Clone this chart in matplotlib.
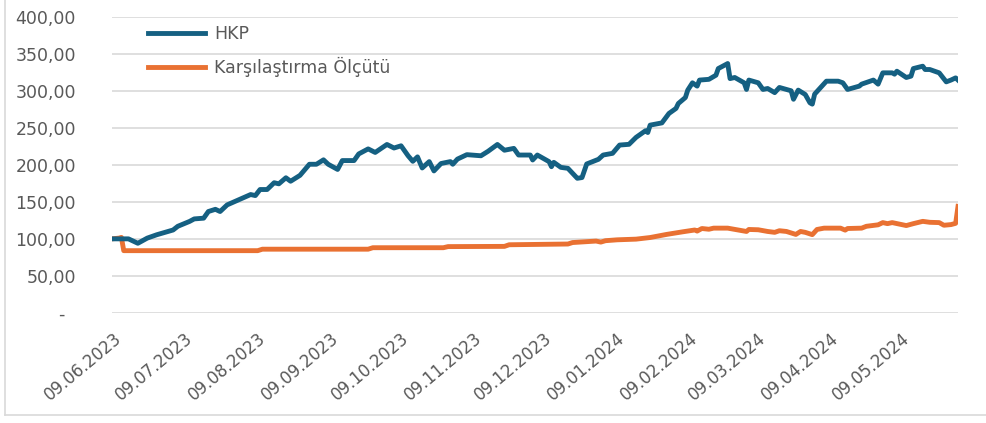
import datetime as dt
import matplotlib
matplotlib.use("Agg")
import matplotlib.pyplot as plt
import matplotlib.dates as mdates
import matplotlib.transforms as mtransforms
from matplotlib.ticker import FuncFormatter
from matplotlib.lines import Line2D

start = dt.date(2023, 6, 9)

# HKP: (days since 09.06.2023, value)
hkp_days = [0, 5, 7, 11, 15, 19, 26, 28, 33, 35, 39, 41, 44, 46, 49, 54, 59, 61, 63, 66,
            69, 71, 74, 76, 80, 84, 87, 90, 92, 96, 98, 103, 105, 109, 112, 117, 120, 123,
            126, 128, 130, 132, 135, 137, 140, 144, 145, 147, 151, 157, 160, 164, 167, 171,
            173, 178, 179, 181, 186, 187, 188, 191, 194, 198, 200, 202, 207, 209, 213, 216,
            220, 223, 227, 228, 229, 234, 237, 240, 241, 244, 245, 247, 249, 250, 254, 257,
            258, 262, 263, 265, 269, 270, 271, 275, 277, 279, 282, 284, 287, 289, 290, 292,
            295, 297, 298, 299, 304, 309, 311, 313, 316, 318, 319, 324, 326, 328, 332, 333,
            334, 338, 340, 341, 345, 346, 348, 352, 355, 357, 359, 360]
hkp_vals = [100, 100, 100, 94, 101, 105.5, 112, 117, 123.6, 127, 128, 137, 140, 137, 146,
            153, 160, 158.6, 166.8, 166.8, 176, 174.5, 182.7, 178, 186, 201, 201, 207, 201,
            194, 206, 206, 215, 221.8, 217, 227.8, 223, 226, 212.5, 205, 211, 196, 204.6, 192,
            202, 204.6, 201, 208, 214, 212.5, 218.5, 227.8, 220, 222.5, 213.5, 213.5, 206.8,
            213.5, 204.5, 197.7, 203.6, 196.8, 195.5, 182, 183, 201.4, 207.7, 213.5, 215.8,
            227, 228, 237.4, 246.4, 244, 254, 257, 269.8, 276.6, 283.3, 291.4, 301.4, 311.3,
            306.8, 315, 316, 321.6, 330.6, 337.4, 317, 318.5, 311.3, 302.3, 315, 311.3, 302.3,
            303.6, 298, 305, 302.3, 300.5, 289, 301.4, 295.5, 284.2, 282.4, 296, 313.5, 313.5,
            311.3, 302.3, 305, 306.8, 309.5, 315, 309.5, 324.8, 324.8, 323, 327, 318.5, 320.3,
            330.6, 333.8, 329.3, 329.3, 324.8, 312.6, 315, 318, 315]

# Karşılaştırma Ölçütü
bench_days = [0, 3, 4, 5, 62, 64, 109, 111, 141, 143, 167, 169, 194, 196, 206, 208, 210,
              215, 223, 229, 236, 243, 248, 249, 251, 254, 256, 262, 270, 271, 275, 279,
              282, 284, 287, 291, 293, 295, 298, 300, 303, 310, 312, 313, 319, 321, 326,
              328, 330, 332, 338, 341, 345, 348, 352, 354, 357, 359, 360]
bench_vals = [100, 101, 102, 84, 84, 86, 86, 88, 88, 89.5, 89.8, 92, 93, 95, 97, 95.6, 97.5,
              98.7, 99.6, 101.8, 106, 109.6, 112, 110.5, 114, 113, 114.5, 114.5, 110, 112.7,
              112.3, 110, 108.8, 111, 110, 106, 110, 108.8, 105.7, 112.7, 114.5, 114.5, 111.8,
              114, 114.5, 117, 119, 122, 120.6, 122, 118, 120.6, 123.7, 122.4, 122, 118.4,
              119.3, 121, 144]

month_ticks = [dt.date(2023, m, 9) for m in range(6, 13)] + [dt.date(2024, m, 9) for m in range(1, 6)]

hkp_dates = [start + dt.timedelta(days=d) for d in hkp_days]
bench_dates = [start + dt.timedelta(days=d) for d in bench_days]

blue = "#156082"
orange = "#E97132"
grey = "#595959"

fig = plt.figure(figsize=(9.86, 4.23), dpi=100)
ax = fig.add_axes([112 / 986, 1 - 312.7 / 423, (958 - 112) / 986, (312.7 - 17.3) / 423])

ax.plot(bench_dates, bench_vals, color=orange, linewidth=3.5, solid_joinstyle="round", zorder=3)
ax.plot(hkp_dates, hkp_vals, color=blue, linewidth=3.5, solid_joinstyle="round", zorder=4)

ax.set_ylim(0, 400)
ax.set_yticks(range(0, 401, 50))
ax.set_xlim(start, start + dt.timedelta(days=360))
ax.set_xticks(month_ticks)
ax.xaxis.set_major_formatter(mdates.DateFormatter("%d.%m.%Y"))


def tr_fmt(v, pos):
    if v == 0:
        return "-  "
    return f"{v:.2f}".replace(".", ",")


ax.yaxis.set_major_formatter(FuncFormatter(tr_fmt))
ax.grid(axis="y", color="#D9D9D9", linewidth=1.2)
ax.set_axisbelow(True)
for s in ax.spines.values():
    s.set_visible(False)
ax.tick_params(axis="y", length=0, pad=26, labelsize=12.5, labelcolor=grey)
ax.tick_params(axis="x", length=0, pad=12, labelsize=12, labelcolor=grey)
shift = mtransforms.ScaledTranslation(2 / 100, 0, fig.dpi_scale_trans)
for lab in ax.get_xticklabels():
    lab.set_rotation(40)
    lab.set_ha("right")
    lab.set_va("top")
    lab.set_rotation_mode("anchor")
    lab.set_transform(lab.get_transform() + shift)

handles = [Line2D([], [], color=blue, linewidth=3.5), Line2D([], [], color=orange, linewidth=3.5)]
fig.legend(handles, ["HKP", "Karşılaştırma Ölçütü"], loc="upper left",
           bbox_to_anchor=(148 / 986, 1 - 25 / 423), frameon=False, fontsize=12.5,
           labelcolor=grey, handlelength=3.3, handletextpad=0.5, labelspacing=0.8,
           borderpad=0, borderaxespad=0)

# chart area border
fig.add_artist(Line2D([5 / 986, 5 / 986], [1 - 415 / 423, 1], color="#D9D9D9", linewidth=1.2))
fig.add_artist(Line2D([5 / 986, 1], [1 - 415 / 423, 1 - 415 / 423], color="#D9D9D9", linewidth=1.2))

fig.savefig("out.png", dpi=100)
